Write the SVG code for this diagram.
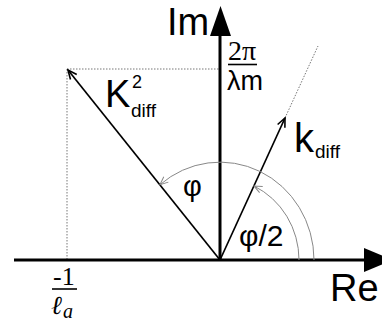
<svg xmlns="http://www.w3.org/2000/svg" width="382" height="322" viewBox="0 0 382 322">
<defs>
<style>
.axis{stroke:#000;stroke-width:3;fill:none}
.vec{stroke:#000;stroke-width:1.7;fill:none}
.dot{stroke:#777;stroke-width:1;stroke-dasharray:1.5 1.5;fill:none}
.arc{stroke:#888;stroke-width:1;fill:none}
.sans{font-family:"Liberation Sans",Arial,sans-serif;fill:#000}
.serif{font-family:"Liberation Serif","DejaVu Serif",serif;fill:#000}
</style>
<marker id="open" markerWidth="12" markerHeight="12" refX="10" refY="5" orient="auto" markerUnits="userSpaceOnUse" viewBox="0 0 12 10">
<path d="M1 1 L10 5 L1 9" stroke="#000" stroke-width="1.6" fill="none"/>
</marker>
<marker id="openg" markerWidth="10" markerHeight="10" refX="9" refY="5" orient="auto" markerUnits="userSpaceOnUse" viewBox="0 0 10 10">
<path d="M1 1.5 L9 5 L1 8.5" stroke="#888" stroke-width="1" fill="none"/>
</marker>
</defs>
<g id="guides">
<path class="dot" d="M67 69 H220"/>
<path class="dot" d="M67 69 V260"/>
<path class="dot" d="M285 118 L318 46"/>
</g>
<g id="axes">
<path class="axis" d="M14 260 H366"/>
<polygon points="364,248 393,260 364,272" fill="#000"/>
<path class="axis" d="M220 260 V34"/>
<polygon points="210,36 220.5,6 231,36" fill="#000"/>
</g>
<g id="connectors">
<path class="vec" d="M220 260 L68 70" marker-end="url(#open)"/>
<path class="vec" d="M220 260 L285 118" marker-end="url(#open)"/>
<path class="arc" d="M314 260 A94 98 0 0 0 160 184.7" marker-end="url(#openg)"/>
<path class="arc" d="M299 260 A79 82 0 0 0 254 186" marker-end="url(#openg)"/>
</g>
<g id="labels">
<text class="sans" x="167" y="35" font-size="38">Im</text>
<text class="sans" x="330" y="301" font-size="38">Re</text>
<g id="K2diff">
<text class="sans" x="105" y="107" font-size="38">K</text>
<text class="sans" x="132" y="88" font-size="18">2</text>
<text class="sans" x="131" y="117" font-size="19">diff</text>
</g>
<g id="kdiff">
<text class="sans" x="294" y="152" font-size="40">k</text>
<text class="sans" x="315" y="158" font-size="19">diff</text>
</g>
<text class="sans" x="183" y="196" font-size="29">φ</text>
<text class="sans" x="239" y="246" font-size="30">φ/2</text>
<g id="frac-lambda">
<text class="serif" x="228" y="60" font-size="28">2π</text>
<path d="M228 64.5 H257" stroke="#000" stroke-width="1.6"/>
<text class="sans" x="227" y="90" font-size="27">λm</text>
</g>
<g id="frac-la">
<text class="serif" x="53" y="285" font-size="26">-1</text>
<path d="M52 289 H77" stroke="#000" stroke-width="1.6"/>
<text class="serif" x="51" y="314" font-size="26" font-style="italic">ℓ</text>
<text class="serif" x="63" y="318" font-size="20" font-style="italic">a</text>
</g>
</g>
</svg>
